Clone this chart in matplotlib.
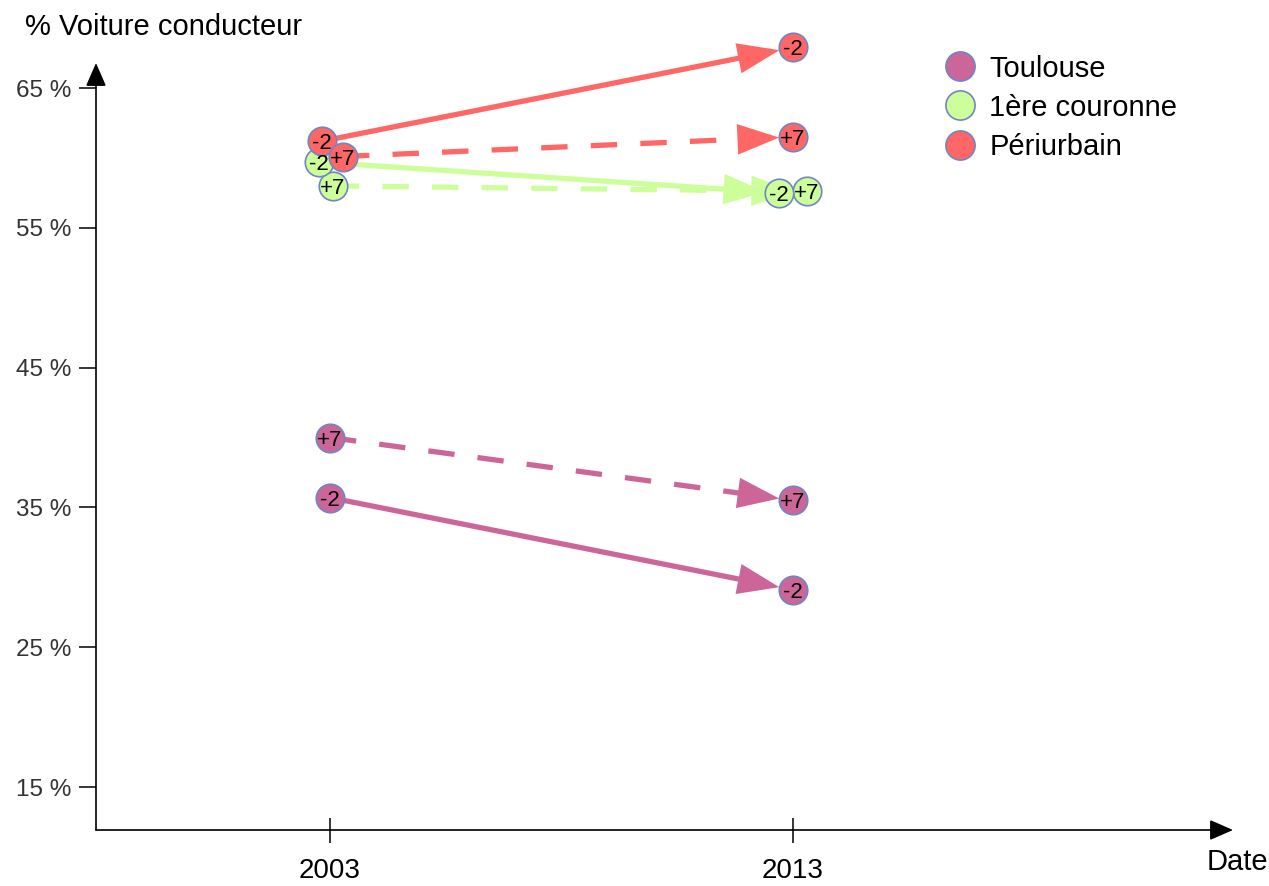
import matplotlib.pyplot as plt
from matplotlib.lines import Line2D

plt.rcParams['font.family'] = ['Liberation Sans', 'DejaVu Sans']

# données (part de la voiture conducteur, en %)
years = [2003, 2013]
zones = ['Toulouse', '1ère couronne', 'Périurbain']
toulouse_m2 = [35.7, 29.1]
toulouse_p7 = [40.0, 35.5]
couronne_m2 = [59.7, 57.5]
couronne_p7 = [58.0, 57.6]
periurbain_m2 = [61.2, 67.9]
periurbain_p7 = [60.1, 61.5]
yticks = [15, 25, 35, 45, 55, 65]

colors = {'Toulouse': '#cc6699', '1ère couronne': '#ccff99', 'Périurbain': '#ff6666'}
edge = '#6f86c6'

# (zone, libellé, valeurs, décalage horizontal des pastilles en années)
series = [
    ('Toulouse', '+7', toulouse_p7, (0.0, 0.0)),
    ('Toulouse', '-2', toulouse_m2, (0.0, 0.0)),
    ('1ère couronne', '+7', couronne_p7, (0.06, 0.30)),
    ('1ère couronne', '-2', couronne_m2, (-0.24, -0.30)),
    ('Périurbain', '-2', periurbain_m2, (-0.17, 0.0)),
    ('Périurbain', '+7', periurbain_p7, (0.28, 0.0)),
]

W, H = 1269, 886
fig = plt.figure(figsize=(W / 100, H / 100), dpi=100)
ax = fig.add_axes([96 / W, 1 - 830 / H, (1233 - 96) / W, (830 - 63) / H])
ax.set_xlim(2003 - 234 / 46.3, 2013 + 440 / 46.3)
ax.set_ylim(65 - 742 / 13.98, 65 + 25 / 13.98)

for s in ax.spines.values():
    s.set_visible(False)

# axes avec flèches
arr = dict(arrowstyle='-|>,head_length=0.8,head_width=0.35', color='black', lw=1.2,
           mutation_scale=18, shrinkA=0, shrinkB=0)
ax.annotate('', xy=(1, 0), xytext=(0, 0), xycoords='axes fraction', arrowprops=arr)
ax.annotate('', xy=(0, 1), xytext=(0, 0), xycoords='axes fraction', arrowprops=arr)

ax.set_yticks(yticks)
ax.set_yticklabels([f'{v} %' for v in yticks], fontsize=17.5, color='#333333')
ax.set_xticks(years)
ax.set_xticklabels([str(y) for y in years], fontsize=20)
ax.tick_params(axis='y', direction='out', length=12, width=1.1, pad=6)
ax.tick_params(axis='x', direction='inout', length=18, width=1.1, pad=11)

# lignes + flèches
for zone, lab, vals, off in series:
    x0, x1 = years[0] + off[0], years[1] + off[1]
    y0, y1 = vals
    ls = (0, (5, 4.4)) if lab == '+7' else '-'
    # point où la tête de flèche commence
    t = 0.9
    xm, ym = x0 + t * (x1 - x0), y0 + t * (y1 - y0)
    ax.plot([x0, xm], [y0, ym], color=colors[zone], lw=3.8, ls=ls, zorder=2,
            solid_capstyle='butt', dash_capstyle='butt', clip_on=False)
    a = ax.annotate('', xy=(x1, y1), xytext=(x0, y0), annotation_clip=False,
                    arrowprops=dict(arrowstyle='-|>,head_length=1.5,head_width=0.55',
                                    color=colors[zone], lw=0, mutation_scale=20,
                                    shrinkA=0, shrinkB=10), zorder=2)
    a.arrow_patch.set_clip_on(False)

# pastilles
order = [2, 3, 0, 1, 4, 5]
for i in order:
    zone, lab, vals, off = series[i]
    for k in range(2):
        xx = years[k] + off[k]
        ax.plot(xx, vals[k], 'o', ms=20.5, mfc=colors[zone], mec=edge, mew=1.2, zorder=4,
                clip_on=False)
        ax.text(xx, vals[k], lab, ha='center', va='center_baseline', fontsize=16, zorder=5,
                clip_on=False)

handles = [Line2D([], [], ls='none', marker='o', ms=21, mfc=colors[z], mec=edge, mew=1.2)
           for z in zones]
fig.legend(handles, zones, loc='upper left', bbox_to_anchor=(931 / W, 1 - 40 / H),
           frameon=False, fontsize=21, handlelength=1.0, handletextpad=0.5,
           labelspacing=0.38, borderpad=0)

fig.text(25 / W, 1 - 27 / H, '% Voiture conducteur', fontsize=21, va='center', ha='left')
fig.text(1207 / W, 1 - 862 / H, 'Date', fontsize=21, va='center', ha='left')

fig.savefig('out.png', dpi=100)
